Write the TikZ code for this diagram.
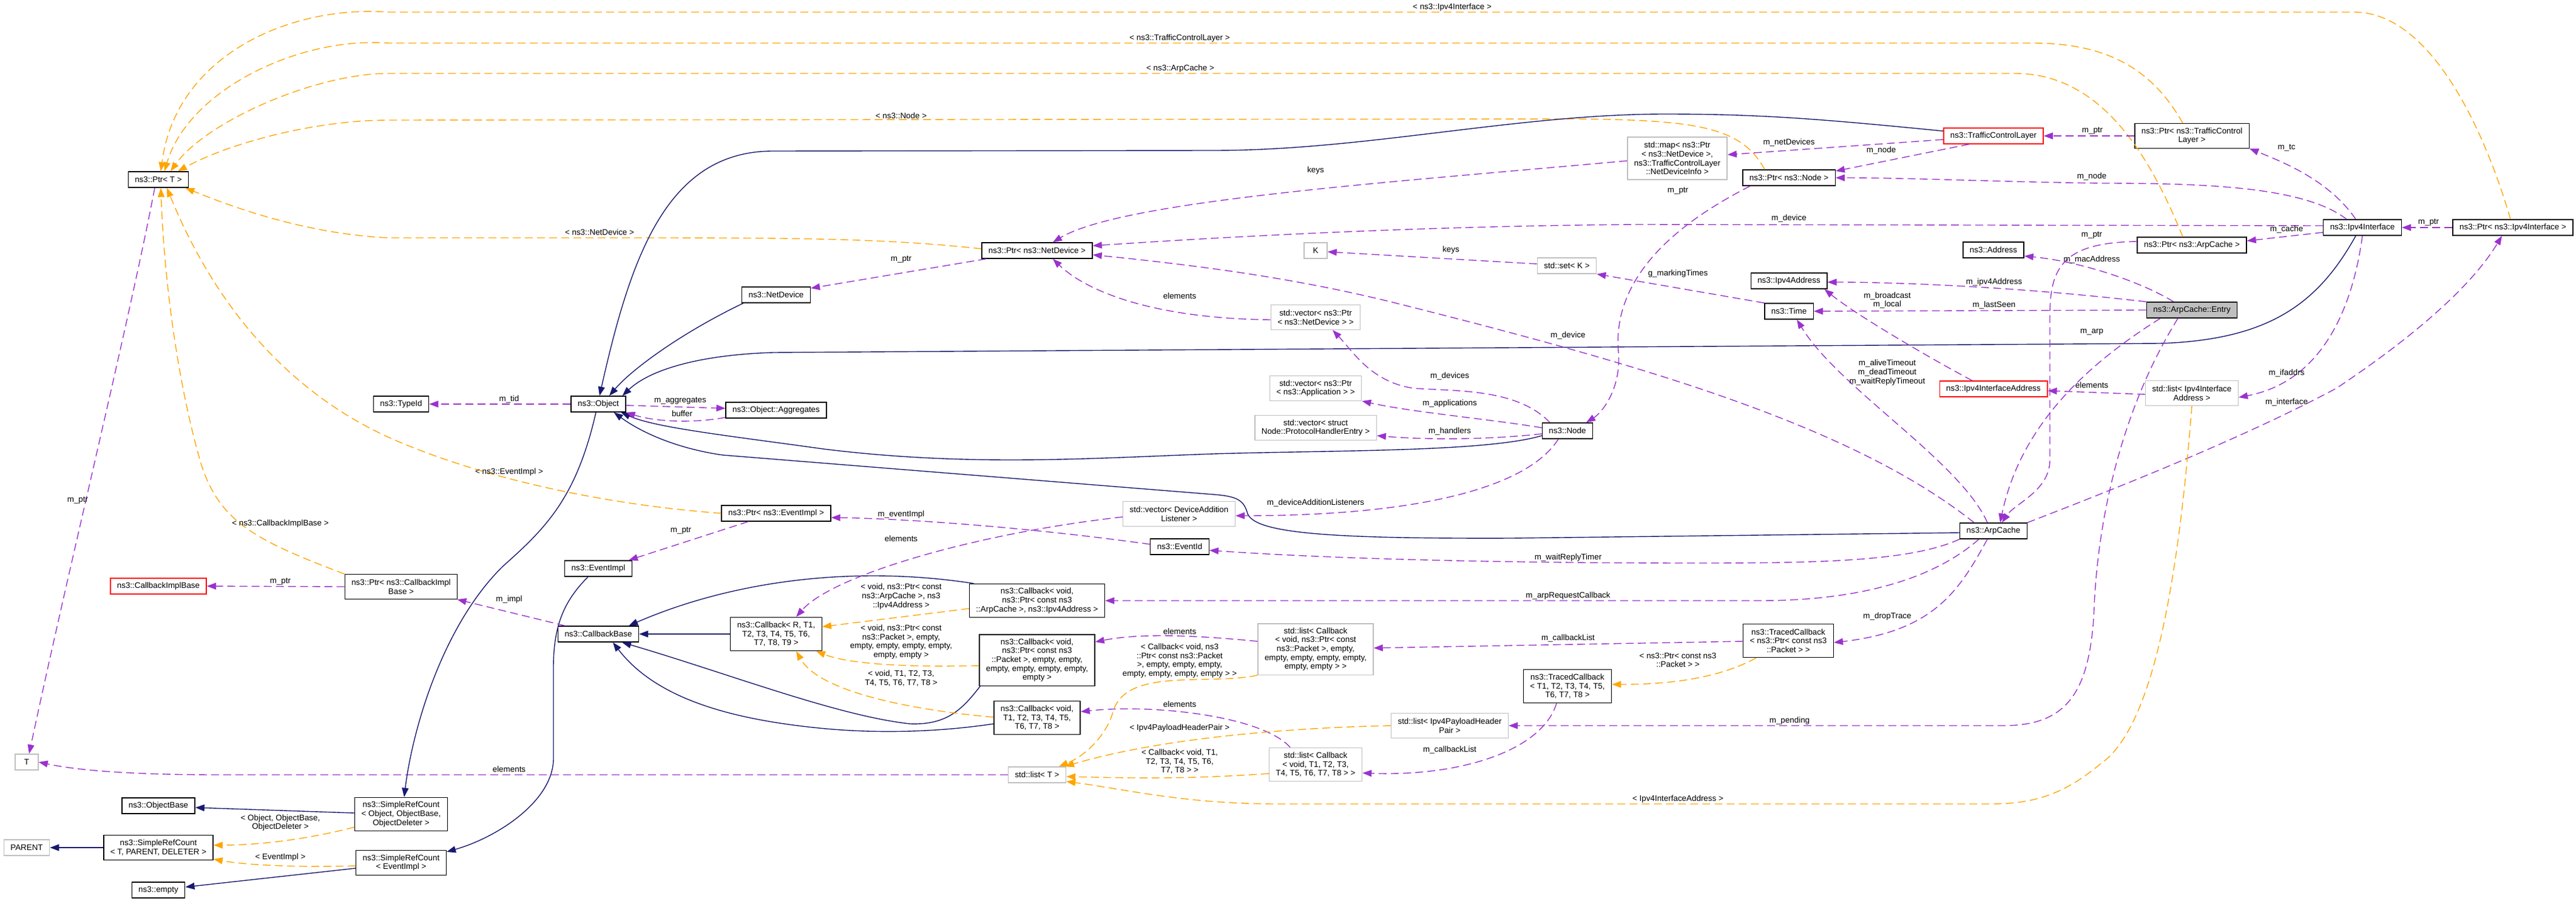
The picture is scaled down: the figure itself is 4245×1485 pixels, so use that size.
\documentclass[tikz,border=0pt]{standalone}
\usepackage{fontspec}
\setmainfont{Liberation Sans}
\usetikzlibrary{arrows.meta}
\definecolor{usecol}{HTML}{9A32CD}
\definecolor{tplcol}{HTML}{FFA500}
\definecolor{inhcol}{HTML}{191970}
\definecolor{boxgray}{HTML}{BFBFBF}
\def\dfont{\fontsize{13.4}{14.6}\selectfont}
\tikzset{
	cls/.style={draw=black, line width=1.4pt, fill=white, align=center, inner xsep=11pt, inner ysep=1pt, minimum height=26pt, minimum width=38pt, font=\dfont},
	ext/.style={cls, draw=boxgray},
	undoc/.style={cls, draw=red},
	focus/.style={cls, fill=boxgray},
	lines2/.style={minimum height=40.6pt},
	lines3/.style={minimum height=55.2pt},
	lines4/.style={minimum height=69.8pt},
	lines5/.style={minimum height=84.4pt},
	lbl/.style={align=center, inner sep=0pt, font=\dfont},
	usedge/.style={draw=usecol, line width=1.4pt, dash pattern=on 13pt off 7pt, -{Triangle[length=15pt,width=11pt]}},
	tpledge/.style={draw=tplcol, line width=1.4pt, dash pattern=on 13pt off 7pt, -{Triangle[length=15pt,width=11pt]}},
	inhedge/.style={draw=inhcol, line width=1.4pt, -{Triangle[length=15pt,width=11pt]}}
}

\begin{document}
\begin{tikzpicture}[x=1pt, y=-1pt]
			%%%%% START %%%%%
			\fill[white] (0,0) rectangle (4245,1485);
			\useasboundingbox (0,0) rectangle (4245,1485);

			%%%%% CLASSES %%%%%
			\node[cls] (ptrT) at (261,296) {ns3::Ptr< T >};
			\node[cls] (ptrNetDev) at (1709,413) {ns3::Ptr< ns3::NetDevice >};
			\node[cls] (netDev) at (1279,486) {ns3::NetDevice};
			\node[cls] (object) at (986,666) {ns3::Object};
			\node[cls] (typeId) at (661,666) {ns3::TypeId};
			\node[cls] (aggr) at (1279,676) {ns3::Object::Aggregates};
			\node[undoc] (cbImplBase) at (261,966) {ns3::CallbackImplBase};
			\node[cls, lines2] (ptrCbImpl) at (661,967) {ns3::Ptr< ns3::CallbackImpl\\Base >};
			\node[cls] (eventImpl) at (986,937) {ns3::EventImpl};
			\node[cls] (ptrEvImpl) at (1279,846) {ns3::Ptr< ns3::EventImpl >};
			\node[cls] (cbBase) at (986,1045) {ns3::CallbackBase};
			\node[cls, lines3] (cbR) at (1279,1045) {ns3::Callback< R, T1,\\T2, T3, T4, T5, T6,\\T7, T8, T9 >};
			\node[cls, lines3] (cbArp) at (1709,990) {ns3::Callback< void,\\ns3::Ptr< const ns3\\::ArpCache >, ns3::Ipv4Address >};
			\node[cls, lines5] (cbPkt) at (1709,1088) {ns3::Callback< void,\\ns3::Ptr< const ns3\\::Packet >, empty, empty,\\empty, empty, empty, empty,\\empty >};
			\node[cls, lines3] (cbVoid) at (1709,1183) {ns3::Callback< void,\\T1, T2, T3, T4, T5,\\T6, T7, T8 >};
			\node[ext] (listT) at (1709,1277) {std::list< T >};
			\node[ext] (T) at (44,1256) {T};
			\node[cls, lines3] (srcObj) at (661,1342) {ns3::SimpleRefCount\\< Object, ObjectBase,\\ObjectDeleter >};
			\node[cls] (objBase) at (261,1328) {ns3::ObjectBase};
			\node[cls, lines2] (srcT) at (261,1397) {ns3::SimpleRefCount\\< T, PARENT, DELETER >};
			\node[ext] (parent) at (44,1397) {PARENT};
			\node[cls, lines2] (srcEv) at (661,1422) {ns3::SimpleRefCount\\< EventImpl >};
			\node[cls] (empty) at (261,1467) {ns3::empty};
			\node[ext, lines2] (vecDal) at (1943,847) {std::vector< DeviceAddition\\Listener >};
			\node[cls] (eventId) at (1944,901) {ns3::EventId};
			\node[ext, lines5] (listCbPkt) at (2168,1070) {std::list< Callback\\< void, ns3::Ptr< const\\ns3::Packet >, empty,\\empty, empty, empty, empty,\\empty, empty > >};
			\node[ext, lines3] (listCbVoid) at (2168,1260) {std::list< Callback\\< void, T1, T2, T3,\\T4, T5, T6, T7, T8 > >};
			\node[ext, lines2] (listPair) at (2389,1196) {std::list< Ipv4PayloadHeader\\Pair >};
			\node[cls, lines3] (tcbT) at (2583,1131) {ns3::TracedCallback\\< T1, T2, T3, T4, T5,\\T6, T7, T8 >};
			\node[cls, lines3] (tcbPkt) at (2947,1056) {ns3::TracedCallback\\< ns3::Ptr< const ns3\\::Packet > >};
			\node[ext, lines4] (stdMap) at (2764,261) {std::map< ns3::Ptr\\< ns3::NetDevice >,\\ns3::TrafficControlLayer\\::NetDeviceInfo >};
			\node[cls] (ptrNode) at (2948,293) {ns3::Ptr< ns3::Node >};
			\node[ext] (K) at (2168,413) {K};
			\node[ext] (setK) at (2582,438) {std::set< K >};
			\node[cls] (ipv4Addr) at (2948,463) {ns3::Ipv4Address};
			\node[cls] (ns3Time) at (2948,513) {ns3::Time};
			\node[ext, lines2] (vecNetDev) at (2168,523) {std::vector< ns3::Ptr\\< ns3::NetDevice > >};
			\node[ext, lines2] (vecApp) at (2168,640) {std::vector< ns3::Ptr\\< ns3::Application > >};
			\node[ext, lines2] (vecPhe) at (2168,705) {std::vector< struct\\Node::ProtocolHandlerEntry >};
			\node[cls] (ns3Node) at (2583,710) {ns3::Node};
			\node[undoc] (tcl) at (3285,224) {ns3::TrafficControlLayer};
			\node[cls, lines2] (ptrTcl) at (3612,224) {ns3::Ptr< ns3::TrafficControl\\Layer >};
			\node[cls] (ipv4If) at (3893,375) {ns3::Ipv4Interface};
			\node[cls] (ptrIpv4If) at (4141,375) {ns3::Ptr< ns3::Ipv4Interface >};
			\node[cls] (ptrArp) at (3612,404) {ns3::Ptr< ns3::ArpCache >};
			\node[cls] (address) at (3285,412) {ns3::Address};
			\node[focus] (entry) at (3612,511) {ns3::ArpCache::Entry};
			\node[undoc] (ipv4IfAddr) at (3285,641) {ns3::Ipv4InterfaceAddress};
			\node[ext, lines2] (listIfAddr) at (3612,648) {std::list< Ipv4Interface\\Address >};
			\node[cls] (arpCache) at (3285,875) {ns3::ArpCache};

			%%%%% TEMPLATE EDGES TO Ptr< T > %%%%%
			\draw[tpledge] ([xshift=-4pt]ptrIpv4If.north) .. controls (4090,200) and (4000,20) .. (3880,20) -- (640,20) .. controls (480,8) and (290,90) .. ([xshift=4pt]ptrT.north);
			\draw[tpledge] ([xshift=-15pt]ptrTcl.north) .. controls (3550,120) and (3480,71) .. (3350,71) -- (640,71) .. controls (490,60) and (310,150) .. ([xshift=10pt]ptrT.north);
			\draw[tpledge] ([xshift=-15pt]ptrArp.north) .. controls (3540,250) and (3460,121) .. (3320,121) -- (640,121) .. controls (520,121) and (340,200) .. ([xshift=20pt]ptrT.north);
			\draw[tpledge] ([xshift=-40pt]ptrNode.north) .. controls (2870,210) and (2800,198) .. (2600,196) -- (640,198) .. controls (520,198) and (380,235) .. ([xshift=32pt]ptrT.north);
			\draw[tpledge] ([yshift=3pt]ptrNetDev.west) .. controls (1450,392) and (1300,392) .. (1000,392) -- (640,392) .. controls (500,385) and (380,340) .. ([xshift=-6pt]ptrT.south east);
			\draw[tpledge] (ptrCbImpl.north west) .. controls (420,890) and (360,860) .. (330,760) .. controls (290,620) and (270,450) .. ([xshift=4pt]ptrT.south);
			\draw[tpledge] (ptrEvImpl.west) .. controls (1000,832) and (800,790) .. (650,725) .. controls (420,625) and (320,420) .. ([xshift=14pt]ptrT.south);
			\draw[usedge] ([xshift=-6pt]ptrT.south) .. controls (215,520) and (110,950) .. ([xshift=4pt]T.north);
			\draw[usedge] (listT.west) -- (360,1277) .. controls (200,1277) and (120,1268) .. (T.east);

			%%%%% INHERITANCE %%%%%
			\draw[inhedge] ([yshift=8pt]tcl.west) .. controls (3000,196) and (2900,188) .. (2744,188) .. controls (2500,188) and (2250,248) .. (2000,248) -- (1274,249) .. controls (1100,249) and (1040,420) .. ([xshift=2pt]object.north);
			\draw[inhedge] ([xshift=3pt]netDev.south west) .. controls (1120,550) and (1040,610) .. ([xshift=18pt]object.north);
			\draw[inhedge] ([xshift=-11pt]ipv4If.south) .. controls (3820,500) and (3740,560) .. (3560,566) -- (1274,581) .. controls (1150,585) and (1070,610) .. ([xshift=-6pt]object.north east);
			\draw[inhedge] ([yshift=-8pt]ns3Node.west) .. controls (2450,745) and (2200,742) .. (2000,748) .. controls (1800,755) and (1600,770) .. (1357,740) .. controls (1200,718) and (1080,705) .. ([xshift=-8pt]object.south east);
			\draw[inhedge] ([yshift=-3pt]arpCache.west) -- (2491,887) .. controls (2200,888) and (2070,880) .. (2056,847) .. controls (2050,825) and (2040,818) .. (2000,815) -- (1191,750) .. controls (1120,740) and (1060,715) .. ([xshift=-20pt]object.south east);
			\draw[inhedge] ([xshift=-4pt]object.south) .. controls (950,820) and (900,870) .. (829,933) .. controls (730,1030) and (680,1200) .. ([xshift=5pt]srcObj.north);
			\draw[inhedge] ([xshift=-17pt]eventImpl.south) .. controls (930,990) and (912,1030) .. (912,1100) -- (912,1250) .. controls (912,1320) and (820,1380) .. ([yshift=-3pt]srcEv.north east);
			\draw[inhedge] ([yshift=2pt]srcObj.west) -- ([yshift=-3pt]objBase.east);
			\draw[tpledge] ([yshift=7pt]srcObj.south west) .. controls (500,1385) and (420,1393) .. ([yshift=4pt]srcT.east);
			\draw[tpledge] ([yshift=-5pt]srcEv.west) .. controls (480,1430) and (400,1425) .. ([yshift=2pt]srcT.south east);
			\draw[inhedge] (srcT.west) -- (parent.east);
			\draw[inhedge] ([yshift=-9pt]srcEv.west) -- ([yshift=5pt]empty.east);

			%%%%% CALLBACKS %%%%%
			\draw[inhedge] (cbR.west) -- (cbBase.east);
			\draw[inhedge] ([xshift=8pt]cbArp.north west) .. controls (1400,930) and (1200,960) .. ([xshift=-17pt]cbBase.north east);
			\draw[inhedge] ([xshift=2pt]cbPkt.south west) .. controls (1585,1170) and (1560,1195) .. (1500,1193) .. controls (1380,1180) and (1200,1110) .. ([xshift=39pt]cbBase.south);
			\draw[inhedge] ([yshift=-10pt]cbVoid.west) .. controls (1550,1206) and (1450,1210) .. (1350,1200) .. controls (1200,1185) and (1080,1150) .. ([xshift=24pt]cbBase.south);
			\draw[tpledge] ([yshift=-13pt]cbArp.west) -- ([yshift=12pt]cbR.east);
			\draw[tpledge] ([yshift=-9pt]cbPkt.west) .. controls (1500,1100) and (1400,1095) .. ([xshift=-10pt]cbR.south east);
			\draw[tpledge] ([yshift=1pt]cbVoid.west) .. controls (1500,1170) and (1350,1140) .. ([xshift=33pt]cbR.south);
			\draw[usedge] ([xshift=-55pt]cbBase.north) -- ([xshift=-1pt]ptrCbImpl.south east);
			\draw[usedge] (ptrCbImpl.west) -- (cbImplBase.east);
			\draw[usedge] (object.west) -- (typeId.east);
			\draw[usedge] ([yshift=-2pt]object.east) -- ([yshift=3pt]aggr.west);
			\draw[usedge] ([yshift=-12pt]aggr.west) .. controls (1140,698) and (1080,695) .. (object.south east);
			\draw[usedge] ([xshift=-46pt]ptrEvImpl.south) -- ([xshift=-6pt]eventImpl.north east);
			\draw[usedge] ([yshift=4pt]eventId.west) .. controls (1700,870) and (1500,855) .. ([yshift=-7pt]ptrEvImpl.east);
			\draw[usedge] ([yshift=-5pt]vecDal.west) .. controls (1600,880) and (1370,950) .. ([xshift=33pt]cbR.north);
			\draw[usedge] ([xshift=-15pt]ns3Node.south) .. controls (2520,800) and (2350,850) .. ([yshift=-3pt]vecDal.east);

			%%%%% ARP CACHE %%%%%
			\draw[usedge] (arpCache.south west) .. controls (3150,925) and (3000,928) .. (2800,928) .. controls (2400,928) and (2150,918) .. ([yshift=-6pt]eventId.east);
			\draw[usedge] ([xshift=-24pt]arpCache.south) .. controls (3180,960) and (3050,990) .. (2900,990) -- (cbArp.east);
			\draw[usedge] ([xshift=-10pt]arpCache.south) .. controls (3230,970) and (3190,1040) .. ([yshift=-3pt]tcbPkt.east);
			\draw[usedge] ([xshift=-10pt]arpCache.north) .. controls (3230,760) and (3030,640) .. ([xshift=13pt]ns3Time.south);
			\draw[usedge] ([xshift=-32pt]arpCache.north) .. controls (3050,700) and (2700,600) .. (2302,500) .. controls (2150,462) and (2000,440) .. ([yshift=-7pt]ptrNetDev.east);
			\draw[usedge] ([xshift=-52pt]entry.south) .. controls (3440,600) and (3330,700) .. ([xshift=11pt]arpCache.north);
			\draw[usedge] ([yshift=6pt]ptrArp.west) .. controls (3400,400) and (3378,440) .. (3378,520) -- (3378,760) .. controls (3376,810) and (3320,830) .. ([xshift=14pt]arpCache.north);
			\draw[usedge] (arpCache.north east) .. controls (3500,800) and (3700,720) .. (3850,640) .. controls (4000,540) and (4080,460) .. ([xshift=-18pt]ptrIpv4If.south);

			%%%%% ENTRY %%%%%
			\draw[usedge] ([xshift=-30pt]entry.north) .. controls (3520,460) and (3420,430) .. ([yshift=-10pt]address.east);
			\draw[usedge] (entry.north west) .. controls (3300,470) and (3100,465) .. ([yshift=-2pt]ipv4Addr.east);
			\draw[usedge] (entry.west) -- (ns3Time.east);
			\draw[usedge] ([xshift=-23pt]entry.south) .. controls (3480,700) and (3455,900) .. (3451,1000) .. controls (3445,1150) and (3400,1196) .. (3300,1196) -- (listPair.east);
			\draw[usedge] ([xshift=-35pt]ipv4IfAddr.north) .. controls (3180,590) and (3060,520) .. ([xshift=-5pt]ipv4Addr.south east);
			\draw[usedge] ([yshift=-2pt]listIfAddr.west) -- ([yshift=-3pt]ipv4IfAddr.east);
			\draw[tpledge] (listIfAddr.south) .. controls (3590,950) and (3550,1200) .. (3460,1260) .. controls (3400,1310) and (3350,1325) .. (3280,1325) -- (2105,1325) .. controls (1950,1325) and (1850,1300) .. ([yshift=-11pt]listT.east);

			%%%%% IPV4 INTERFACE %%%%%
			\draw[usedge] (ipv4If.south) .. controls (3875,520) and (3820,630) .. ([yshift=-7pt]listIfAddr.east);
			\draw[usedge] ([yshift=-8pt]ipv4If.west) -- ([yshift=7pt]ptrArp.east);
			\draw[usedge] ([xshift=-11pt]ipv4If.north) .. controls (3840,300) and (3770,270) .. (ptrTcl.south east);
			\draw[usedge] ([xshift=-26pt]ipv4If.north) .. controls (3800,310) and (3650,302) .. (3465,302) .. controls (3300,300) and (3150,293) .. (ptrNode.east);
			\draw[usedge] ([yshift=3pt]ipv4If.west) -- (2702,370) .. controls (2400,372) and (2100,385) .. ([yshift=8pt]ptrNetDev.east);
			\draw[usedge] (ptrIpv4If.west) -- (ipv4If.east);
			\draw[usedge] (ptrTcl.west) -- (tcl.east);
			\draw[usedge] ([yshift=-6pt]tcl.west) -- ([yshift=6pt]stdMap.east);
			\draw[usedge] ([xshift=-40pt]tcl.south) -- ([yshift=11pt]ptrNode.east);
			\draw[usedge] ([yshift=-4pt]stdMap.west) .. controls (2300,300) and (1850,330) .. ([xshift=26pt]ptrNetDev.north);
			\draw[usedge] ([yshift=-4pt]vecNetDev.west) .. controls (1900,525) and (1790,480) .. ([xshift=26pt]ptrNetDev.south);
			\draw[usedge] ([xshift=-84pt]ptrNetDev.south) -- ([yshift=11pt]netDev.east);
			\draw[usedge] ([xshift=-64pt]ptrNode.south) .. controls (2700,400) and (2660,500) .. (2667,580) .. controls (2672,640) and (2640,680) .. ([xshift=31pt]ns3Node.north);
			\draw[usedge] ([xshift=-29pt]ns3Node.north) .. controls (2500,640) and (2400,645) .. (2330,640) .. controls (2260,630) and (2230,580) .. ([xshift=28pt]vecNetDev.south);
			\draw[usedge] ([yshift=5pt]ns3Node.west) .. controls (2450,690) and (2330,680) .. (vecApp.south east);
			\draw[usedge] ([yshift=-5pt]ns3Node.west) .. controls (2450,725) and (2350,725) .. ([yshift=-13pt]vecPhe.east);
			\draw[usedge] (ns3Time.north west) -- (setK.south east);
			\draw[usedge] ([yshift=3pt]setK.west) -- ([yshift=-2pt]K.east);

			%%%%% TRACED CALLBACKS %%%%%
			\draw[usedge] ([yshift=-1pt]tcbPkt.west) -- ([yshift=2pt]listCbPkt.east);
			\draw[tpledge] ([xshift=-53pt]tcbPkt.south) .. controls (2820,1125) and (2720,1128) .. ([yshift=3pt]tcbT.east);
			\draw[usedge] ([xshift=-18pt]tcbT.south) .. controls (2540,1240) and (2400,1280) .. ([yshift=-14pt]listCbVoid.east);
			\draw[usedge] ([yshift=13pt]listCbPkt.west) .. controls (1950,1045) and (1870,1045) .. ([yshift=30pt]cbPkt.east);
			\draw[tpledge] (listCbPkt.south west) .. controls (1990,1130) and (1860,1100) .. (1835,1170) .. controls (1825,1210) and (1790,1245) .. ([xshift=36pt]listT.north);
			\draw[usedge] ([xshift=-42pt]listCbVoid.north) .. controls (2080,1180) and (1900,1160) .. ([yshift=10pt]cbVoid.east);
			\draw[tpledge] ([yshift=-15pt]listCbVoid.west) .. controls (1950,1285) and (1850,1282) .. ([yshift=-3pt]listT.east);
			\draw[tpledge] (listPair.west) .. controls (2100,1200) and (1900,1220) .. ([xshift=46pt]listT.north);

			%%%%% LABELS %%%%%
			\node[lbl] (lbIpv4If) at (2393,12) {< ns3::Ipv4Interface >};
			\node[lbl] (lbTcl) at (1944,63) {< ns3::TrafficControlLayer >};
			\node[lbl] (lbArp) at (1945,113) {< ns3::ArpCache >};
			\node[lbl] (lbNode) at (1485,191) {< ns3::Node >};
			\node[lbl] (lbNetDev) at (988,383) {< ns3::NetDevice >};
			\node[lbl] (lbCbImpl) at (462,863) {< ns3::CallbackImplBase >};
			\node[lbl] (lbEvImpl) at (839,778) {< ns3::EventImpl >};
			\node[lbl] (lbPtrT) at (128,825) {m\_ptr};
			\node[lbl] (lbTid) at (839,658) {m\_tid};
			\node[lbl] (lbPtrCb) at (462,959) {m\_ptr};
			\node[lbl] (lbImpl) at (839,988) {m\_impl};
			\node[lbl] (lbAggr) at (1121,661) {m\_aggregates};
			\node[lbl] (lbBuffer) at (1124,682) {buffer};
			\node[lbl] (lbPtrEv) at (1122,875) {m\_ptr};
			\node[lbl] (lbEvImplM) at (1485,848) {m\_eventImpl};
			\node[lbl] (lbDalEl) at (1485,888) {elements};
			\node[lbl] (lbPtrNd) at (1485,428) {m\_ptr};
			\node[lbl] (lbNdEl) at (1944,488) {elements};
			\node[lbl] (lbCbArp) at (1485,983) {< void, ns3::Ptr< const\\ns3::ArpCache >, ns3\\::Ipv4Address >};
			\node[lbl] (lbCbPkt) at (1485,1058) {< void, ns3::Ptr< const\\ns3::Packet >, empty,\\empty, empty, empty, empty,\\empty, empty >};
			\node[lbl] (lbCbVoid) at (1485,1118) {< void, T1, T2, T3,\\T4, T5, T6, T7, T8 >};
			\node[lbl] (lbPktEl) at (1944,1041) {elements};
			\node[lbl] (lbListPkt) at (1944,1089) {< Callback< void, ns3\\::Ptr< const ns3::Packet\\>, empty, empty, empty,\\empty, empty, empty, empty > >};
			\node[lbl] (lbVoidEl) at (1944,1161) {elements};
			\node[lbl] (lbPair) at (1944,1200) {< Ipv4PayloadHeaderPair >};
			\node[lbl] (lbListVoid) at (1944,1255) {< Callback< void, T1,\\T2, T3, T4, T5, T6,\\T7, T8 > >};
			\node[lbl] (lbTEl) at (839,1268) {elements};
			\node[lbl] (lbSrcObj) at (462,1356) {< Object, ObjectBase,\\ObjectDeleter >};
			\node[lbl] (lbSrcEv) at (462,1413) {< EventImpl >};
			\node[lbl] (lbCbList1) at (2584,1052) {m\_callbackList};
			\node[lbl] (lbTcbPkt) at (2765,1088) {< ns3::Ptr< const ns3\\::Packet > >};
			\node[lbl] (lbPending) at (2949,1188) {m\_pending};
			\node[lbl] (lbCbList2) at (2389,1236) {m\_callbackList};
			\node[lbl] (lbIfAddrT) at (2765,1317) {< Ipv4InterfaceAddress >};
			\node[lbl] (lbDrop) at (3110,1016) {m\_dropTrace};
			\node[lbl] (lbKeys1) at (2168,281) {keys};
			\node[lbl] (lbNetDevs) at (2948,235) {m\_netDevices};
			\node[lbl] (lbNode1) at (3100,248) {m\_node};
			\node[lbl] (lbNode2) at (3447,291) {m\_node};
			\node[lbl] (lbPtrNode) at (2765,315) {m\_ptr};
			\node[lbl] (lbKeys2) at (2391,412) {keys};
			\node[lbl] (lbMarking) at (2765,451) {g\_markingTimes};
			\node[lbl] (lbIpv4Addr) at (3286,465) {m\_ipv4Address};
			\node[lbl] (lbBcast) at (3110,495) {m\_broadcast\\m\_local};
			\node[lbl] (lbDev1) at (2948,360) {m\_device};
			\node[lbl] (lbDev2) at (2584,553) {m\_device};
			\node[lbl] (lbPtrTcl) at (3448,216) {m\_ptr};
			\node[lbl] (lbPtrIf) at (4002,367) {m\_ptr};
			\node[lbl] (lbTc) at (3768,243) {m\_tc};
			\node[lbl] (lbCache) at (3768,378) {m\_cache};
			\node[lbl] (lbPtrArp) at (3447,388) {m\_ptr};
			\node[lbl] (lbMac) at (3447,428) {m\_macAddress};
			\node[lbl] (lbSeen) at (3286,503) {m\_lastSeen};
			\node[lbl] (lbDevs) at (2389,620) {m\_devices};
			\node[lbl] (lbApps) at (2389,665) {m\_applications};
			\node[lbl] (lbHandlers) at (2389,711) {m\_handlers};
			\node[lbl] (lbDal) at (2168,829) {m\_deviceAdditionListeners};
			\node[lbl] (lbTimeouts) at (3110,614) {m\_aliveTimeout\\m\_deadTimeout\\m\_waitReplyTimeout};
			\node[lbl] (lbTimer) at (2584,919) {m\_waitReplyTimer};
			\node[lbl] (lbArpCb) at (2584,982) {m\_arpRequestCallback};
			\node[lbl] (lbArpM) at (3447,547) {m\_arp};
			\node[lbl] (lbIfEl) at (3447,635) {elements};
			\node[lbl] (lbIfaddrs) at (3768,615) {m\_ifaddrs};
			\node[lbl] (lbIface) at (3768,663) {m\_interface};
			%%%%% END %%%%%
		\end{tikzpicture}
\end{document}
